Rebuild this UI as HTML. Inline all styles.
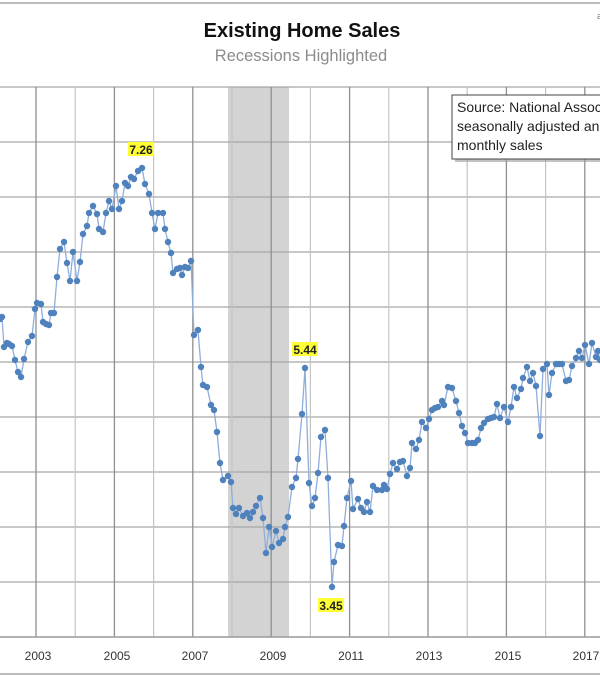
<!DOCTYPE html>
<html><head><meta charset="utf-8"><style>
html,body{margin:0;padding:0;width:600px;height:676px;overflow:hidden;background:#fff}
svg{display:block}
text{font-family:"Liberation Sans",sans-serif}
</style></head><body>
<svg width="600" height="676" viewBox="0 0 600 676" xmlns="http://www.w3.org/2000/svg">
<rect x="0" y="0" width="600" height="676" fill="#fff"/>
<line x1="0" y1="3" x2="600" y2="3" stroke="#bdbdbd" stroke-width="2"/>
<line x1="0" y1="674" x2="600" y2="674" stroke="#bdbdbd" stroke-width="2"/>
<text x="302" y="37" font-size="20" font-weight="bold" text-anchor="middle" fill="#111">Existing Home Sales</text>
<text x="301" y="61" font-size="16.5" text-anchor="middle" fill="#8c8c8c">Recessions Highlighted</text>
<text x="597" y="19" font-size="9" fill="#777">a</text>
<rect x="228" y="87" width="61" height="550" fill="#d3d3d3"/>
<g stroke="#a6a6a6" stroke-width="1.2">
<line x1="0" y1="87" x2="600" y2="87"/><line x1="0" y1="142" x2="600" y2="142"/>
<line x1="0" y1="197" x2="600" y2="197"/><line x1="0" y1="252" x2="600" y2="252"/>
<line x1="0" y1="307" x2="600" y2="307"/><line x1="0" y1="362" x2="600" y2="362"/>
<line x1="0" y1="417" x2="600" y2="417"/><line x1="0" y1="472" x2="600" y2="472"/>
<line x1="0" y1="527" x2="600" y2="527"/><line x1="0" y1="582" x2="600" y2="582"/>
</g>
<g stroke="#8f8f8f" stroke-width="1.3">
<line x1="36" y1="87" x2="36" y2="637"/><line x1="114.4" y1="87" x2="114.4" y2="637"/>
<line x1="192.8" y1="87" x2="192.8" y2="637"/><line x1="271.2" y1="87" x2="271.2" y2="637"/>
<line x1="349.6" y1="87" x2="349.6" y2="637"/><line x1="428" y1="87" x2="428" y2="637"/>
<line x1="506.4" y1="87" x2="506.4" y2="637"/><line x1="584.8" y1="87" x2="584.8" y2="637"/>
</g>
<g stroke="#c4c4c4" stroke-width="1.2">
<line x1="75.2" y1="87" x2="75.2" y2="637"/><line x1="153.6" y1="87" x2="153.6" y2="637"/>
<line x1="232" y1="87" x2="232" y2="637"/><line x1="310.4" y1="87" x2="310.4" y2="637"/>
<line x1="388.8" y1="87" x2="388.8" y2="637"/><line x1="467.2" y1="87" x2="467.2" y2="637"/>
<line x1="545.6" y1="87" x2="545.6" y2="637"/>
</g>
<line x1="0" y1="637" x2="600" y2="637" stroke="#999" stroke-width="1.5"/>
<g font-size="12" fill="#333" text-anchor="middle">
<text x="38" y="660">2003</text><text x="117" y="660">2005</text><text x="195" y="660">2007</text>
<text x="273" y="660">2009</text><text x="351" y="660">2011</text><text x="429" y="660">2013</text>
<text x="508" y="660">2015</text><text x="586" y="660">2017</text>
</g>
<polyline fill="none" stroke="#8eaedb" stroke-width="1.3" points="0,319 2,317 4,347 7,343 9,344 12,346 15,360 18,372 21,377 24,359 28,342 32,336 35,309 37,303 41,304 43,322 46,324 49,325 51,313 54,313 57,277 60,249 64,242 67,263 70,281 73,252 77,281 80,262 83,234 87,226 89,213 93,206 97,214 99,229 103,232 106,213 109,201 112,209 116,186 119,209 122,201 125,183 128,186 131,177 134,179 138,171 142,168 145,184 149,194 152,213 155,229 158,213 163,213 165,229 168,242 171,253 173,273 177,269 180,268 182,275 185,267 188,268 191,261 194,335 198,330 201,367 203,385 207,387 211,405 214,410 217,432 220,463 223,480 228,476 231,482 233,508 236,514 239,508 243,516 247,513 250,518 253,512 256,506 260,498 263,518 266,553 269,527 272,547 276,531 279,543 283,539 285,527 288,517 292,487 296,478 298,459 302,414 305,368 309,483 312,506 315,498 318,473 321,437 325,430 328,478 332,587 334,562 338,545 342,546 344,526 347,498 351,481 353,509 358,499 361,508 364,512 367,502 370,512 373,486 377,490 382,490 384,485 387,489 390,474 393,463 397,469 400,462 403,461 407,476 410,468 412,443 416,449 419,440 422,422 426,428 429,419 432,410 435,408 438,407 442,401 444,405 448,387 452,388 456,401 459,413 462,426 465,433 468,443 472,443 475,443 478,440 481,428 484,423 488,419 491,418 494,417 497,404 500,418 504,407 508,422 511,407 514,387 517,398 521,389 523,378 527,367 530,381 533,373 536,386 540,436 543,369 547,364 549,395 552,373 556,364 559,364 562,364 566,381 569,380 572,366 576,358 579,351 582,358 585,345 589,364 592,343 596,357 598,351 600,360"/>
<g fill="#4f81bd" id="dots"></g>
<rect x="128" y="142" width="26" height="14" fill="#ffff33"/>
<text x="141" y="154" font-size="12" font-weight="bold" text-anchor="middle" fill="#222">7.26</text>
<rect x="292" y="342" width="26" height="14" fill="#ffff33"/>
<text x="305" y="354" font-size="12" font-weight="bold" text-anchor="middle" fill="#222">5.44</text>
<rect x="318" y="598" width="26" height="14" fill="#ffff33"/>
<text x="331" y="610" font-size="12" font-weight="bold" text-anchor="middle" fill="#222">3.45</text>
<rect x="455" y="98" width="160" height="64" fill="#999" opacity="0.6"/>
<rect x="452" y="95" width="160" height="64" fill="#fff" stroke="#444" stroke-width="1"/>
<g font-size="14" fill="#222">
<text x="457" y="112">Source: National Association of Realtors</text>
<text x="457" y="131">seasonally adjusted annual rate</text>
<text x="457" y="150">monthly  sales</text>
</g>
</svg>
<script>
(function(){
var pl=document.querySelector('polyline').getAttribute('points').trim().split(/\s+/);
var g=document.getElementById('dots'),ns='http://www.w3.org/2000/svg';
pl.forEach(function(p){var a=p.split(',');var c=document.createElementNS(ns,'circle');
c.setAttribute('cx',a[0]);c.setAttribute('cy',a[1]);c.setAttribute('r','3.2');g.appendChild(c);});
})();
</script>
</body></html>
